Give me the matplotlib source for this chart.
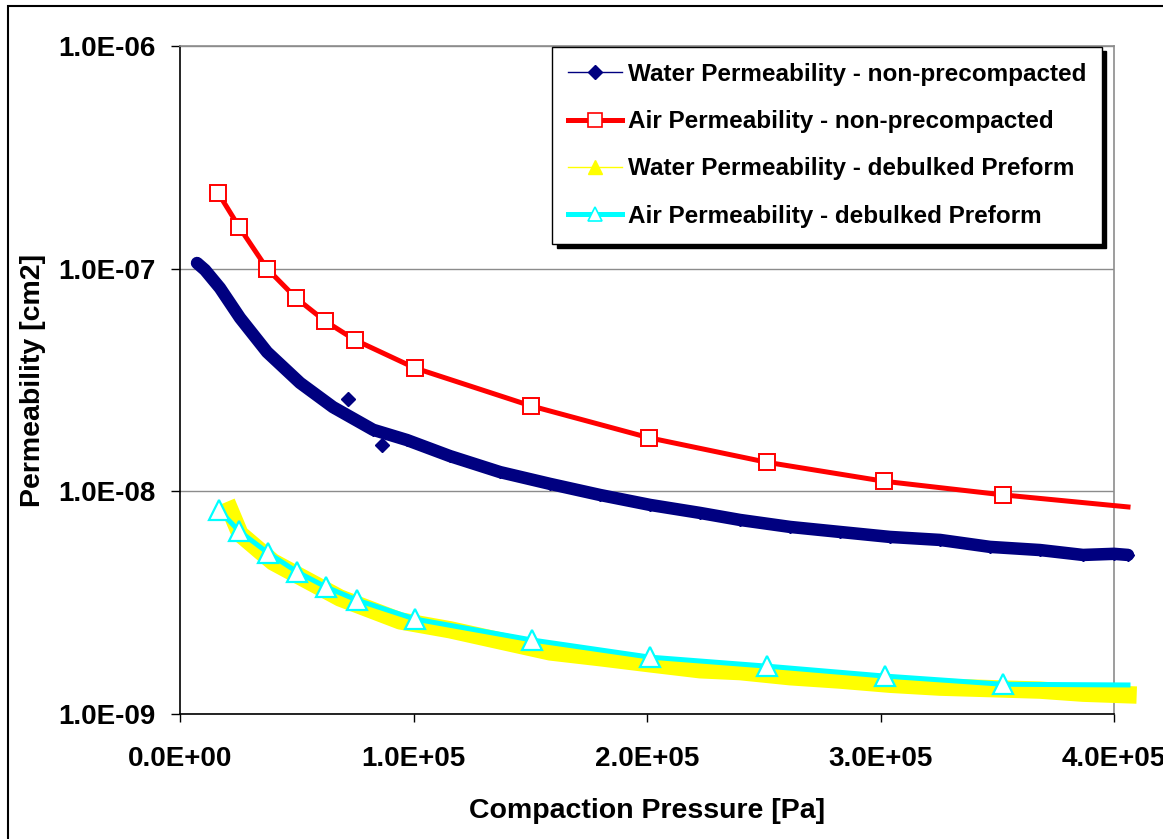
import matplotlib
matplotlib.use("Agg")
import matplotlib.pyplot as plt
from matplotlib.ticker import FuncFormatter, NullLocator
from matplotlib.patches import Rectangle
from matplotlib.lines import Line2D

plt.rcParams["font.family"] = ["Liberation Sans", "DejaVu Sans"]
plt.rcParams["font.weight"] = "bold"

# ── 数据 (compaction pressure [Pa], permeability [cm2])
water_np_p = [7300, 10700, 17100, 25700, 37300, 51400, 65500, 82700, 97200,
              115600, 137100, 158500, 179900, 201300, 222700, 239800, 261300,
              282700, 304100, 325500, 346900, 368300, 386700, 400000, 406000]
water_np_k = [1.06e-7, 9.87e-8, 8.19e-8, 6.01e-8, 4.22e-8, 3.07e-8, 2.39e-8,
              1.89e-8, 1.70e-8, 1.44e-8, 1.22e-8, 1.08e-8, 9.63e-9, 8.69e-9,
              8.00e-9, 7.44e-9, 6.92e-9, 6.57e-9, 6.24e-9, 6.05e-9, 5.63e-9,
              5.45e-9, 5.18e-9, 5.24e-9, 5.18e-9]
water_np_outlier_p = [72000, 86500]
water_np_outlier_k = [2.60e-8, 1.62e-8]

air_np_p = [16300, 25300, 37300, 49700, 62100, 75000, 100600, 150300,
            200900, 251400, 301500, 352500, 406000]
air_np_k = [2.19e-7, 1.54e-7, 1.00e-7, 7.38e-8, 5.82e-8, 4.78e-8, 3.58e-8,
            2.42e-8, 1.74e-8, 1.35e-8, 1.11e-8, 9.64e-9, 8.51e-9]

water_db_p = [21400, 25700, 39800, 68500, 94200, 115600, 137100, 158500,
              179900, 201300, 222700, 239800, 261300, 282700, 304100, 325500,
              346900, 368300, 386700, 406000]
water_db_k = [8.25e-9, 6.44e-9, 4.82e-9, 3.32e-9, 2.62e-9, 2.39e-9, 2.13e-9,
              1.90e-9, 1.79e-9, 1.68e-9, 1.58e-9, 1.55e-9, 1.47e-9, 1.42e-9,
              1.36e-9, 1.32e-9, 1.30e-9, 1.28e-9, 1.24e-9, 1.22e-9]

air_db_p = [16700, 25300, 37700, 50100, 62500, 75700, 100600, 150700,
            201300, 251400, 301900, 352500, 406000]
air_db_k = [8.24e-9, 6.63e-9, 5.29e-9, 4.35e-9, 3.72e-9, 3.25e-9, 2.67e-9,
            2.15e-9, 1.80e-9, 1.64e-9, 1.48e-9, 1.36e-9, 1.35e-9]

x_ticks = [0, 1e5, 2e5, 3e5, 4e5]
y_ticks = [1e-9, 1e-8, 1e-7, 1e-6]

labels = ["Water Permeability - non-precompacted",
          "Air Permeability - non-precompacted",
          "Water Permeability - debulked Preform",
          "Air Permeability - debulked Preform"]

NAVY, RED, YELLOW, CYAN = "#000080", "#FF0000", "#FFFF00", "#00FFFF"

fig = plt.figure(figsize=(11.63, 8.39), dpi=100)
ax = fig.add_axes([180 / 1163, 1 - 714 / 839, 934 / 1163, 668 / 839])

# ── 曲线
ax.plot(water_np_p, water_np_k, color=NAVY, lw=9, solid_capstyle="round",
        clip_on=False, zorder=3)
ax.plot(water_np_p, water_np_k, color=NAVY, lw=1, marker="D", ms=6,
        clip_on=False, zorder=3)
ax.plot(water_np_outlier_p, water_np_outlier_k, ls="none", color=NAVY,
        marker="D", ms=7, zorder=3)

ax.plot(air_np_p, air_np_k, color=RED, lw=3.6, marker="s", ms=11.5,
        mfc="white", mec=RED, mew=1.4, markevery=list(range(12)),
        clip_on=False, zorder=4)

ax.plot(water_db_p, water_db_k, color=YELLOW, lw=12.5, clip_on=False, zorder=5)
ax.plot(water_db_p, water_db_k, color=YELLOW, lw=1, marker="^", ms=6,
        clip_on=False, zorder=5)

ax.plot(air_db_p, air_db_k, color=CYAN, lw=3.6, marker="^", ms=15,
        mfc="white", mec=CYAN, mew=1.6, markevery=list(range(12)),
        clip_on=False, zorder=6)

# ── 坐标轴
ax.set_yscale("log")
ax.set_xlim(0, 4e5)
ax.set_ylim(1e-9, 1e-6)
ax.set_xticks(x_ticks)
ax.set_yticks(y_ticks)
ax.yaxis.set_minor_locator(NullLocator())
fmt = FuncFormatter(lambda v, _: f"{v:.1E}")
ax.xaxis.set_major_formatter(fmt)
ax.yaxis.set_major_formatter(fmt)
ax.tick_params(axis="x", length=6, width=1, pad=17, labelsize=20)
ax.tick_params(axis="y", length=6.5, width=1, pad=11, labelsize=20)
ax.yaxis.grid(True, color="#8c8c8c", lw=1)
ax.set_axisbelow(True)

for side in ["left", "bottom"]:
    ax.spines[side].set_color("black")
    ax.spines[side].set_linewidth(1.2)
for side in ["top", "right"]:
    ax.spines[side].set_color("#8c8c8c")
    ax.spines[side].set_linewidth(1.2)

ax.set_xlabel("Compaction Pressure [Pa]", fontsize=20.5, fontweight="bold",
              labelpad=19)
ax.set_ylabel("Permeability [cm2]", fontsize=20.5, fontweight="bold",
              labelpad=9)

# ── 图例
handles = [
    Line2D([], [], color=NAVY, lw=1, marker="D", ms=7),
    Line2D([], [], color=RED, lw=3.6, marker="s", ms=9.5, mfc="white", mec=RED, mew=1.2),
    Line2D([], [], color=YELLOW, lw=1, marker="^", ms=9.5),
    Line2D([], [], color=CYAN, lw=3.6, marker="^", ms=10.5, mfc="white", mec=CYAN, mew=1.2),
]
leg = ax.legend(handles, labels, loc="upper right",
                bbox_to_anchor=((1102 - 180) / 934, (714 - 47) / 668),
                prop={"size": 17.5, "weight": "bold"}, frameon=True,
                fancybox=False, framealpha=1, edgecolor="black",
                handlelength=2.2, handletextpad=0.25, labelspacing=1.0,
                borderpad=0.65, borderaxespad=0,
                shadow={"ox": 3, "oy": -3, "color": "black", "alpha": 1})
leg.get_frame().set_linewidth(1)
leg.set_zorder(10)

# ── 外框
fig.patches.append(Rectangle((8 / 1163, -0.05), 1.2, 1 - 6 / 839 + 0.05,
                             transform=fig.transFigure, fill=False,
                             edgecolor="black", lw=1.5))

fig.savefig("out.png", dpi=100)
